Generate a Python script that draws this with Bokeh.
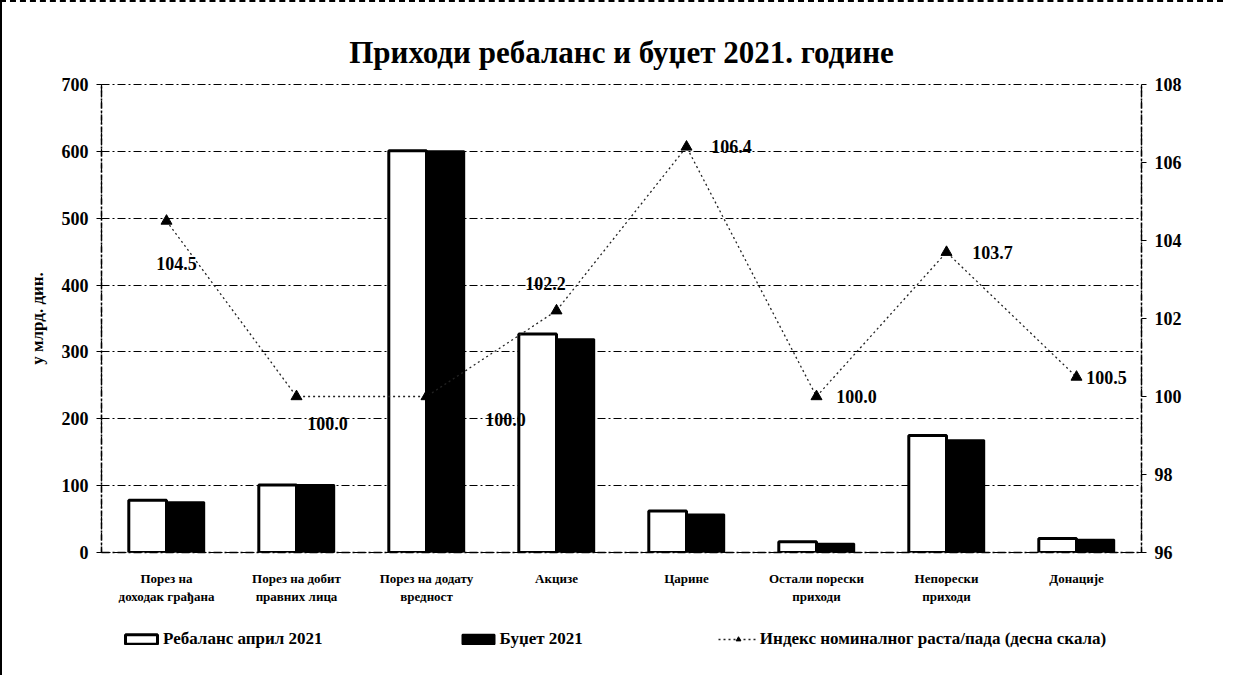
from bokeh.plotting import figure
from bokeh.layouts import column
from bokeh.models import (ColumnDataSource, FactorRange, Range1d, LinearAxis,
                          SingleIntervalTicker, Legend, LegendItem)
from bokeh.transform import dodge
from bokeh.core.properties import value
from bokeh.embed import file_html
from bokeh.resources import INLINE

categories = ["Порез на\nдоходак грађана", "Порез на добит\nправних лица",
              "Порез на додату\nвредност", "Акцизе", "Царине",
              "Остали порески\nприходи", "Непорески\nприходи", "Донације"]
rebalans = [78, 101, 601, 327, 62, 16, 175, 21]
budzet = [75, 101, 600, 319, 57, 13, 168, 19]
indeks = [104.5, 100.0, 100.0, 102.2, 106.4, 100.0, 103.7, 100.5]
indeks_labels = ["104.5", "100.0", "100.0", "102.2", "106.4", "100.0", "103.7", "100.5"]
lab_dx = [10, 31, 79, -11, 45, 40, 46, 30]
lab_dy = [42, 27, 23, -27, 0, 0, 0, 0]
series_names = ["Ребаланс април 2021", "Буџет 2021",
                "Индекс номиналног раста/пада (десна скала)"]

FONT = "Liberation Serif"

src = ColumnDataSource(dict(cat=categories, reb=rebalans, bud=budzet, idx=indeks,
                            lab=indeks_labels, dx=lab_dx, dy=lab_dy))

p = figure(x_range=FactorRange(factors=categories), y_range=Range1d(0, 700),
           width=1221, height=610, output_backend="svg", toolbar_location=None,
           min_border_left=99, min_border_right=82, min_border_top=82,
           min_border_bottom=60)
p.extra_y_ranges = {"idx": Range1d(96, 108)}

p.title.text = "Приходи ребаланс и буџет 2021. године"
p.title.align = "center"
p.title.text_font = FONT
p.title.text_font_size = "31px"
p.title.text_font_style = "bold"
p.title.text_color = "black"
p.title.standoff = 30

BAR_A = dict(fill_color="white", line_color="black", line_width=3)
BAR_B = dict(fill_color="black", line_color="black", line_width=2)
LINE = dict(line_color="#222222", line_width=1.3, line_dash="2 3")
MARK = dict(marker="triangle", size=11, fill_color="black", line_color="black")

p.vbar(x=dodge("cat", -0.145, range=p.x_range), top="reb", width=0.29, source=src, **BAR_A)
p.vbar(x=dodge("cat", 0.145, range=p.x_range), top="bud", width=0.29, source=src, **BAR_B)
p.line(x="cat", y="idx", source=src, y_range_name="idx", **LINE)
p.scatter(x="cat", y="idx", source=src, y_range_name="idx", **MARK)
p.text(x="cat", y="idx", text="lab", source=src, y_range_name="idx", x_offset="dx",
       y_offset="dy", text_align="center", text_baseline="middle",
       text_font=value(FONT), text_font_size="18px", text_font_style="bold",
       text_color="black")

# left axis
ax = p.yaxis[0]
ax.ticker = SingleIntervalTicker(interval=100)
ax.axis_label = "у млрд. дин."
ax.axis_label_text_font = FONT
ax.axis_label_text_font_size = "17px"
ax.axis_label_text_font_style = "bold"
ax.axis_label_text_color = "black"
ax.axis_label_standoff = 12

right = LinearAxis(y_range_name="idx", ticker=SingleIntervalTicker(interval=2))
p.add_layout(right, "right")

for a in (ax, right):
    a.major_label_text_font = FONT
    a.major_label_text_font_size = "18px"
    a.major_label_text_font_style = "bold"
    a.major_label_text_color = "black"
    a.axis_line_color = "black"
    a.axis_line_width = 1.5
    a.axis_line_dash = "6 2 2 2"
    a.major_tick_line_color = "black"
    a.major_tick_in = 0
    a.major_tick_out = 5
    a.minor_tick_line_color = None
    a.major_label_standoff = 8

xa = p.xaxis[0]
xa.major_label_text_font = FONT
xa.major_label_text_font_size = "13px"
xa.major_label_text_font_style = "bold"
xa.major_label_text_color = "black"
xa.axis_line_color = "black"
xa.axis_line_width = 1.5
xa.axis_line_dash = "8 3 2 3"
xa.major_tick_line_color = None
xa.major_label_standoff = 12

p.xgrid.grid_line_color = None
p.ygrid.grid_line_color = "black"
p.ygrid.grid_line_width = 1.2
p.ygrid.grid_line_dash = "8 3 2 3"
p.outline_line_color = "black"
p.outline_line_dash = "8 3 2 3"
p.outline_line_width = 1.2

# legend strip: hidden renderers of the same data, only their legend keys are shown
lf = figure(width=1221, height=63, output_backend="svg", toolbar_location=None,
            x_range=FactorRange(factors=categories), y_range=Range1d(-20, -10),
            min_border_left=0, min_border_right=0, min_border_top=0, min_border_bottom=0)
lf.axis.visible = False
lf.grid.visible = False
lf.outline_line_color = None
g1 = lf.vbar(x="cat", top="reb", width=0.29, source=src, **BAR_A)
g2 = lf.vbar(x="cat", top="bud", width=0.29, source=src, **BAR_B)
g3 = lf.line(x="cat", y="idx", source=src, **LINE)
g4 = lf.scatter(x="cat", y="idx", source=src, **MARK)
for g in (g1, g2, g3, g4):
    g.visible = False

legend = Legend(items=[
    LegendItem(label=series_names[0], renderers=[g1]),
    LegendItem(label=series_names[1], renderers=[g2]),
    LegendItem(label=series_names[2], renderers=[g3, g4]),
], orientation="horizontal", location=(20, 26))
legend.label_text_font = FONT
legend.label_text_font_size = "17px"
legend.label_text_font_style = "bold"
legend.label_text_color = "black"
legend.glyph_width = 40
legend.glyph_height = 12
legend.label_standoff = 2
legend.spacing = 135
legend.border_line_color = None
legend.background_fill_alpha = 0
legend.inactive_fill_alpha = 0
legend.margin = 0
legend.padding = 4
lf.add_layout(legend, "center")

layout = column(p, lf, spacing=0)
layout.styles = {"border-left": "2px solid black", "border-top": "2px dashed black"}

open("out.html", "w").write(file_html(layout, INLINE))
